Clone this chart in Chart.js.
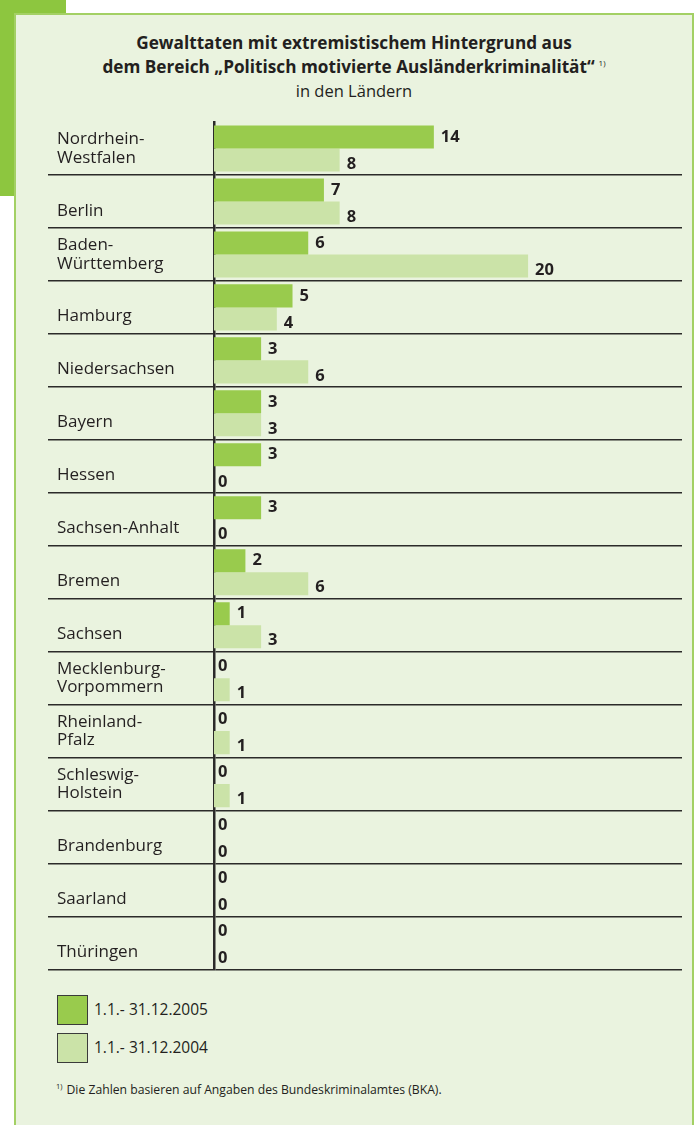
<!DOCTYPE html>
<html lang="de">
<head>
<meta charset="utf-8">
<title>Gewalttaten mit extremistischem Hintergrund</title>
<script src="https://cdn.jsdelivr.net/npm/chart.js@4.4.1/dist/chart.umd.min.js"></script>
<style>
  html, body { margin: 0; padding: 0; }
  body { width: 694px; height: 1125px; overflow: hidden; position: relative; background: #fff;
         font-family: "Open Sans", sans-serif; color: #231f20; }
  .block { position: absolute; left: 0; top: 0; width: 66px; height: 196px; background: #8dc63f; }
  .panel { position: absolute; left: 14px; top: 13px; width: 680px; height: 1200px; box-sizing: border-box;
           background: #eaf3df; border: 2px solid #a3d064; border-bottom: none; }
  .title { position: absolute; left: 14px; width: 680px; top: 31px; text-align: center; line-height: 24px; font-size: 16.5px; }
  .title b { font-weight: 700; font-size: 17.2px; }
  .title sup { font-size: 8px; line-height: 0; vertical-align: 0; position: relative; top: -7px; margin-left: 4px; }
  canvas { position: absolute; left: 0; top: 100px; }
  .legend { position: absolute; left: 57px; top: 995px; }
  .legend .item { position: relative; height: 29px; margin-bottom: 9px; }
  .legend .box { position: absolute; left: 0; top: 0; width: 29px; height: 28px; border: 1px solid #3a3a3a; }
  .legend .txt { position: absolute; left: 37px; top: 0; line-height: 29px; font-size: 15.5px; white-space: nowrap; }
  .note { position: absolute; left: 56px; top: 1081px; font-size: 12.2px; white-space: nowrap; }
  .note sup { font-size: 7.5px; line-height: 0; vertical-align: 0; position: relative; top: -5px; margin-right: 4px; }
</style>
</head>
<body>
<div class="block"></div>
<div class="panel"></div>
<div class="title">
  <b>Gewalttaten mit extremistischem Hintergrund aus</b><br>
  <b>dem Bereich „Politisch motivierte Ausländerkriminalität“</b><sup>1)</sup><br>
  in den Ländern
</div>
<canvas id="chart" width="694" height="891"></canvas>
<div class="legend" id="legend"></div>
<div class="note"><sup>1)</sup>Die Zahlen basieren auf Angaben des Bundeskriminalamtes (BKA).</div>

<script>
// Länder (leere erste Zeile = Name steht unten im Feld)
const laender = [
  ["Nordrhein-", "Westfalen"],
  ["", "Berlin"],
  ["Baden-", "Württemberg"],
  ["", "Hamburg"],
  ["", "Niedersachsen"],
  ["", "Bayern"],
  ["", "Hessen"],
  ["", "Sachsen-Anhalt"],
  ["", "Bremen"],
  ["", "Sachsen"],
  ["Mecklenburg-", "Vorpommern"],
  ["Rheinland-", "Pfalz"],
  ["Schleswig-", "Holstein"],
  ["", "Brandenburg"],
  ["", "Saarland"],
  ["", "Thüringen"]
];
const werte2005 = [14, 7, 6, 5, 3, 3, 3, 3, 2, 1, 0, 0, 0, 0, 0, 0];
const werte2004 = [8, 8, 20, 4, 6, 3, 0, 0, 6, 3, 1, 1, 1, 0, 0, 0];
const zeitraeume = ["1.1.- 31.12.2005", "1.1.- 31.12.2004"];
const farben = ["#99cb4d", "#cbe3a8"];

const dunkel = "#2b2a29";
Chart.defaults.font.family = '"Open Sans", sans-serif';
Chart.defaults.color = "#231f20";

// Zahlen rechts neben den Balken
const wertLabels = {
  id: "wertLabels",
  afterDatasetsDraw(chart) {
    const ctx = chart.ctx;
    ctx.save();
    ctx.font = 'bold 16.5px "Open Sans", sans-serif';
    ctx.fillStyle = "#231f20";
    ctx.textBaseline = "middle";
    chart.data.datasets.forEach((ds, di) => {
      chart.getDatasetMeta(di).data.forEach((bar, i) => {
        const v = ds.data[i];
        ctx.fillText(String(v), bar.x + (v ? 7 : 4), bar.y + (di ? 4 : 0));
      });
    });
    ctx.restore();
  }
};

const chart = new Chart(document.getElementById("chart"), {
  type: "bar",
  data: {
    labels: laender,
    datasets: [
      { label: zeitraeume[0], data: werte2005, backgroundColor: farben[0] },
      { label: zeitraeume[1], data: werte2004, backgroundColor: farben[1] }
    ]
  },
  options: {
    indexAxis: "y",
    responsive: false,
    animation: false,
    barPercentage: 1,
    categoryPercentage: 0.87,
    layout: { padding: { left: 57, top: 22, right: 12, bottom: 11 } },
    plugins: {
      legend: { display: false },
      tooltip: { enabled: false }
    },
    scales: {
      x: { display: false, min: 0, max: 29.8 },
      y: {
        z: 1,
        afterFit: (scale) => { scale.width = 157; },
        grid: {
          offset: true,
          drawOnChartArea: true,
          tickLength: 166,
          lineWidth: 1.5,
          color: (ctx) => (ctx.index === 0 ? "rgba(0,0,0,0)" : dunkel)
        },
        border: { display: true, color: dunkel, width: 2.5 },
        ticks: {
          autoSkip: false,
          crossAlign: "far",
          font: { size: 17, lineHeight: 1.09 },
          color: "#231f20"
        }
      }
    }
  },
  plugins: [wertLabels]
});

// Legende aus den Datensätzen
const legend = document.getElementById("legend");
chart.data.datasets.forEach((ds) => {
  const item = document.createElement("div");
  item.className = "item";
  item.innerHTML = '<div class="box" style="background:' + ds.backgroundColor + '"></div><div class="txt">' + ds.label + "</div>";
  legend.appendChild(item);
});
</script>
</body>
</html>
